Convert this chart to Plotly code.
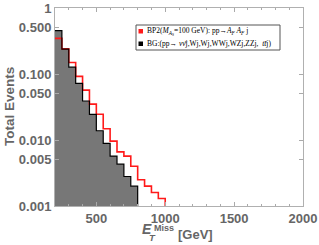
import plotly.graph_objects as go

# ---- data ----
bg_edges = [200, 250, 300, 350, 400, 450, 500, 550, 600, 650, 700, 750, 800]
bg_values = [0.455, 0.239, 0.127, 0.072, 0.039, 0.0245, 0.0138, 0.0089, 0.0057, 0.0043, 0.0028, 0.0020]
sig_edges = [200, 250, 300, 350, 400, 450, 500, 550, 600, 650, 700, 750, 800, 850, 900, 950, 1000]
sig_values = [0.347, 0.240, 0.149, 0.092, 0.057, 0.035, 0.0245, 0.0148, 0.0096, 0.0066, 0.0057, 0.0040,
              0.0025, 0.0020, 0.0016, 0.0013]
y_tickvals = [0.001, 0.005, 0.01, 0.05, 0.1, 0.5, 1]
y_ticktext = ["0.001", "0.005", "0.010", "0.050", "0.100", "0.500", "1"]
x_tickvals = [500, 1000, 1500, 2000]
x_ticktext = ["500", "1000", "1500", "2000"]
sig_label = "BP2(<i>M</i><sub><i>A</i><sub>S</sub></sub>=100 GeV): pp→<i>A<sub>F</sub> A<sub>F</sub></i> j"
bg_label = "BG:(pp→ <i>νν̄</i>j,Wj,Wj,WWj,WZj,ZZj,  <i>tt̄</i>j)"

FLOOR = 1e-3


def steps(edges, vals, floor):
    xs, ys = [edges[0]], [floor]
    for i, v in enumerate(vals):
        xs += [edges[i], edges[i + 1]]
        ys += [v, v]
    xs.append(edges[-1])
    ys.append(floor)
    return xs, ys


bx, by = steps(bg_edges, bg_values, FLOOR)
sx, sy = steps(sig_edges, sig_values, FLOOR)

fig = go.Figure()
fig.add_trace(go.Scatter(x=bx, y=by, mode="lines", fill="toself", fillcolor="#777777",
                         line=dict(width=0), hoverinfo="skip", showlegend=False))
fig.add_trace(go.Scatter(x=sx[1:], y=sy[1:], mode="lines", line=dict(color="#ff1a1a", width=1.6),
                         showlegend=False))
fig.add_trace(go.Scatter(x=bx[1:], y=by[1:], mode="lines", line=dict(color="#000000", width=1.2),
                         showlegend=False))

L, R, T, B = 55, 16, 8, 39
W, H = 319, 245
PW, PH = W - L - R, H - T - B


def px(x):
    return (x - L) / PW


def py(y):
    return (T + PH - y) / PH


gray = "#666666"

shapes = [
    dict(type="rect", xref="paper", yref="paper", x0=px(136), x1=px(280), y0=py(50), y1=py(25),
         line=dict(color="#555555", width=1), fillcolor="white", layer="above"),
    dict(type="rect", xref="paper", yref="paper", x0=px(138.5), x1=px(143), y0=py(33.5), y1=py(29),
         line=dict(width=0), fillcolor="#ff1a1a", layer="above"),
    dict(type="rect", xref="paper", yref="paper", x0=px(138.5), x1=px(143), y0=py(46), y1=py(41.5),
         line=dict(width=0), fillcolor="#000000", layer="above"),
]

annotations = [
    dict(text=sig_label, xref="paper", yref="paper", x=px(144.5), y=py(31.5), xanchor="left",
         yanchor="middle", showarrow=False, font=dict(family="Liberation Serif", size=7.5, color="black")),
    dict(text=bg_label, xref="paper", yref="paper", x=px(144.5), y=py(44), xanchor="left",
         yanchor="middle", showarrow=False, font=dict(family="Liberation Serif", size=7.5, color="black")),
    dict(text="<b>Total Events</b>", xref="paper", yref="paper", x=px(9), y=py(107), textangle=-90,
         xanchor="center", yanchor="middle", showarrow=False,
         font=dict(family="Liberation Sans", size=13.5, color=gray)),
    dict(text="<b><i>E</i></b>", xref="paper", yref="paper", x=px(147), y=py(229), xanchor="center",
         yanchor="middle", showarrow=False, font=dict(family="Liberation Sans", size=14, color=gray)),
    dict(text="<b><i>T</i></b>", xref="paper", yref="paper", x=px(152.5), y=py(237.5), xanchor="center",
         yanchor="middle", showarrow=False, font=dict(family="Liberation Sans", size=9.5, color=gray)),
    dict(text="<b>Miss</b>", xref="paper", yref="paper", x=px(151.5), y=py(228.5), xanchor="left",
         yanchor="middle", showarrow=False, font=dict(family="Liberation Sans", size=9, color=gray)),
    dict(text="<b>[GeV]</b>", xref="paper", yref="paper", x=px(176), y=py(234.5), xanchor="left",
         yanchor="middle", showarrow=False, font=dict(family="Liberation Sans", size=13, color=gray)),
]

fig.update_layout(
    width=W, height=H, margin=dict(l=L, r=R, t=T, b=B, autoexpand=False),
    paper_bgcolor="white", plot_bgcolor="white", showlegend=False,
    shapes=shapes, annotations=annotations,
    xaxis=dict(range=[200, 2000], tickvals=x_tickvals, ticktext=x_ticktext, ticks="inside", ticklen=4,
               tickcolor="#aaaaaa", showline=True, linecolor="#b0b0b0", linewidth=1, mirror="ticks",
               showgrid=False, zeroline=False, tickfont=dict(family="Liberation Sans", size=13, color=gray,
                                                             weight="bold"),
               minor=dict(dtick=100, tick0=0, ticks="inside", ticklen=2, tickcolor="#aaaaaa")),
    yaxis=dict(type="log", range=[-3, 0], tickvals=y_tickvals, ticktext=y_ticktext, ticks="inside",
               ticklen=4, tickcolor="#aaaaaa", showline=True, linecolor="#b0b0b0", linewidth=1,
               mirror="ticks", showgrid=False, zeroline=False,
               tickfont=dict(family="Liberation Sans", size=13, color=gray, weight="bold")),
)

fig.write_html("out.html", config={"displayModeBar": False},
               post_script="document.body.style.margin='0px';document.body.style.padding='0px';")
